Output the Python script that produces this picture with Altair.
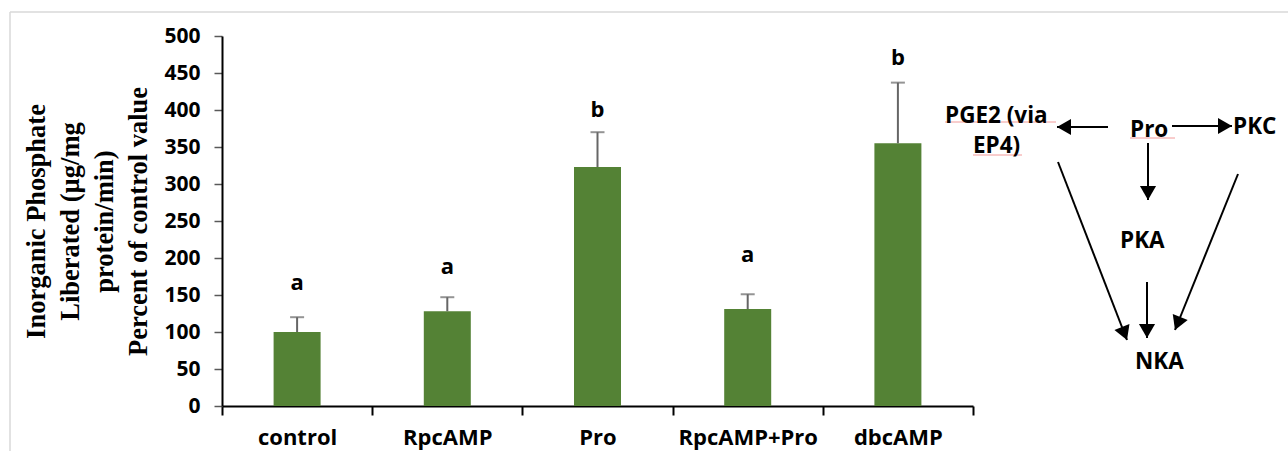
import math
import altair as alt
import pandas as pd

# ---------------- bar chart data ----------------
categories = ["control", "RpcAMP", "Pro", "RpcAMP+Pro", "dbcAMP"]
means = [100, 128, 323, 131, 355]
errors = [20, 19, 47, 20, 82]
letters = ["a", "a", "b", "a", "b"]
letter_pos = [157, 178, 390, 195, 461]
y_ticks = [0, 50, 100, 150, 200, 250, 300, 350, 400, 450, 500]
y_title = ["Inorganic Phosphate", "Liberated (\u00b5g/mg", "protein/min)", "Percent of control value"]

# ---------------- pathway diagram data (page pixel space) ----------------
node_labels = ["PGE2 (via", "EP4)", "Pro", "PKC", "PKA", "NKA"]
node_x = [945, 973, 1130, 1233, 1120, 1135]
node_y = [116, 146, 130, 127, 241, 362]

arrow_x1 = [1108, 1172, 1148, 1058, 1147, 1238]
arrow_y1 = [127, 126, 143, 162, 282, 174]
arrow_x2 = [1057, 1232, 1148, 1127, 1147, 1175]
arrow_y2 = [127, 126, 200, 340, 338, 330]

underline_x1 = [945, 973, 1130]
underline_x2 = [1056, 1022, 1175]
underline_y = [122, 155, 138]

frame_x1 = [10, 10]
frame_x2 = [1288, 10]
frame_y1 = [12, 12]
frame_y2 = [12, 451]

PLOT_LEFT, PLOT_TOP = 222, 36
PLOT_W, PLOT_H = 1066, 370
BAND_RANGE = 751

bars_df = pd.DataFrame({
    "cat": categories,
    "mean": means,
    "top": [m + e for m, e in zip(means, errors)],
    "letter": letters,
    "lpos": letter_pos,
})

FONT = "Open Sans"

x_scale = alt.Scale(domain=categories, range=[0, BAND_RANGE], paddingInner=0, paddingOuter=0)
y_scale = alt.Scale(domain=[0, 500], nice=False)

x_axis = alt.Axis(
    title=None, labelAngle=0, labelFont=FONT, labelFontWeight="bold", labelFontSize=22,
    labelColor="black", labelPadding=12, tickBand="extent", tickSize=9, tickColor="black",
    tickWidth=2, domainColor="black", domainWidth=2,
)
y_axis = alt.Axis(
    title=y_title, values=y_ticks, grid=False, labelFont=FONT, labelFontWeight="bold",
    labelFontSize=21, labelColor="black", labelPadding=14, tickSize=8, tickColor="#595959",
    tickWidth=1.5, domainColor="black", domainWidth=2,
    titleFont="Liberation Serif", titleFontWeight="bold", titleFontSize=26.5,
    titleLineHeight=34, titleColor="black", titleAngle=-90, titleAlign="center",
    titleBaseline="top", titleX=23 - PLOT_LEFT, titleY=PLOT_H / 2,
)

X = alt.X("cat:N", sort=categories, scale=x_scale, axis=x_axis)

base = alt.Chart(bars_df)

bars = base.mark_bar(color="#548235", size=47).encode(
    x=X,
    y=alt.Y("mean:Q", scale=y_scale, axis=y_axis),
)
err_rule = base.mark_rule(color="#666666", strokeWidth=2).encode(
    x=X,
    y=alt.Y("mean:Q", scale=y_scale, axis=y_axis),
    y2="top:Q",
)
err_cap = base.mark_tick(color="#666666", size=14, thickness=2, orient="horizontal").encode(
    x=X,
    y=alt.Y("top:Q", scale=y_scale, axis=y_axis),
)
letter_text = base.mark_text(font=FONT, fontWeight="bold", fontSize=22, color="black",
                             baseline="alphabetic").encode(
    x=X,
    y=alt.Y("lpos:Q", scale=y_scale, axis=y_axis),
    text="letter:N",
)

# ---------------- diagram layers ----------------
dx_scale = alt.Scale(domain=[PLOT_LEFT, PLOT_LEFT + PLOT_W], nice=False, zero=False)
dy_scale = alt.Scale(domain=[PLOT_TOP, PLOT_TOP + PLOT_H], nice=False, zero=False, reverse=True)

nodes_df = pd.DataFrame({"label": node_labels, "x": node_x, "y": node_y})
nodes = alt.Chart(nodes_df).mark_text(font=FONT, fontWeight="bold", fontSize=22.5, color="black",
                                      align="left", baseline="middle").encode(
    x=alt.X("x:Q", scale=dx_scale, axis=None),
    y=alt.Y("y:Q", scale=dy_scale, axis=None),
    text="label:N",
)

arrows_df = pd.DataFrame({"x1": arrow_x1, "y1": arrow_y1, "x2": arrow_x2, "y2": arrow_y2})
arrow_lines = alt.Chart(arrows_df).mark_rule(color="black", strokeWidth=2).encode(
    x=alt.X("x1:Q", scale=dx_scale, axis=None),
    y=alt.Y("y1:Q", scale=dy_scale, axis=None),
    x2="x2:Q", y2="y2:Q",
)

heads = []
for x1, y1, x2, y2 in zip(arrow_x1, arrow_y1, arrow_x2, arrow_y2):
    dx, dy = x2 - x1, y2 - y1
    L = math.hypot(dx, dy)
    ux, uy = dx / L, dy / L
    ang = math.degrees(math.atan2(dx, -dy)) % 360
    heads.append({"hx": x2 - ux * 7, "hy": y2 - uy * 7, "ang": ang})
heads_df = pd.DataFrame(heads)
arrow_heads = alt.Chart(heads_df).mark_point(shape="triangle-up", filled=True, color="black",
                                             size=260, opacity=1).encode(
    x=alt.X("hx:Q", scale=dx_scale, axis=None),
    y=alt.Y("hy:Q", scale=dy_scale, axis=None),
    angle=alt.Angle("ang:Q", scale=None),
)

ul_df = pd.DataFrame({"x1": underline_x1, "x2": underline_x2, "y": underline_y})
underlines = alt.Chart(ul_df).mark_rule(color="#f29a9a", strokeWidth=1).encode(
    x=alt.X("x1:Q", scale=dx_scale, axis=None),
    x2="x2:Q",
    y=alt.Y("y:Q", scale=dy_scale, axis=None),
)

frame_df = pd.DataFrame({"x1": frame_x1, "x2": frame_x2, "y1": frame_y1, "y2": frame_y2})
frame = alt.Chart(frame_df).mark_rule(color="#d9d9d9", strokeWidth=1.5).encode(
    x=alt.X("x1:Q", scale=dx_scale, axis=None),
    x2="x2:Q",
    y=alt.Y("y1:Q", scale=dy_scale, axis=None),
    y2="y2:Q",
)

bar_group = alt.layer(bars, err_rule, err_cap, letter_text)
diagram_group = alt.layer(frame, underlines, arrow_lines, arrow_heads, nodes)

chart = alt.layer(bar_group, diagram_group).resolve_scale(
    x="independent", y="independent"
).resolve_axis(x="independent", y="independent").properties(
    width=PLOT_W, height=PLOT_H,
    autosize=alt.AutoSizeParams(type="none"),
    padding={"left": PLOT_LEFT, "top": PLOT_TOP, "right": 0, "bottom": 451 - PLOT_TOP - PLOT_H},
    background="white",
).configure_view(stroke=None)

chart.save("out.html", embed_options={"renderer": "svg", "actions": False})
